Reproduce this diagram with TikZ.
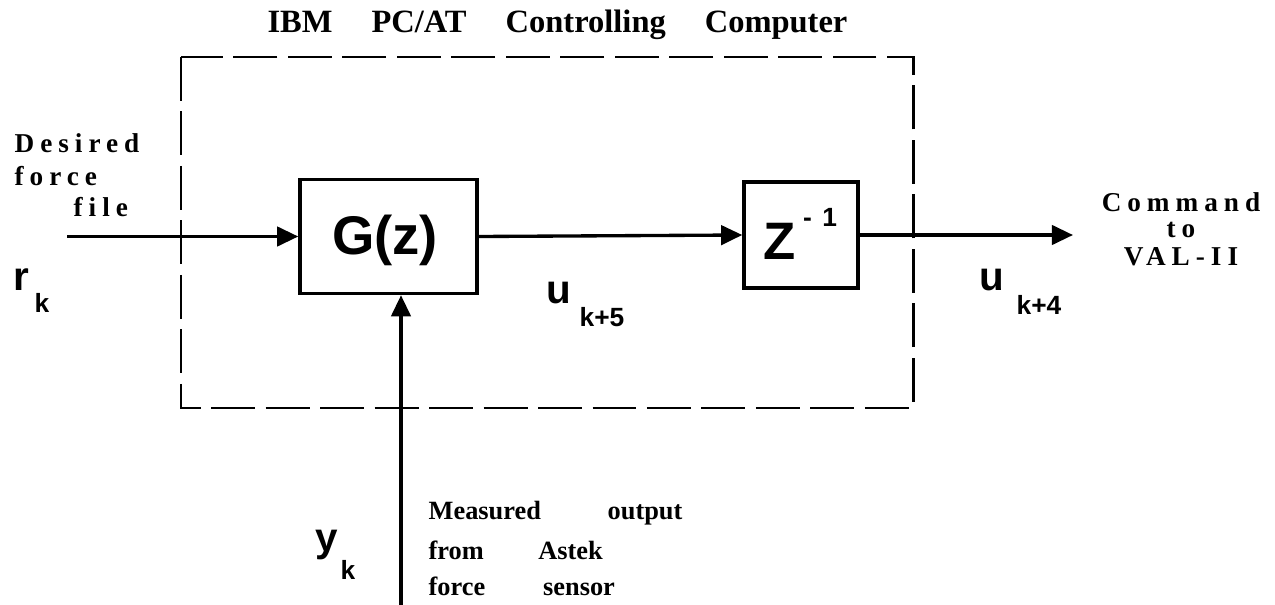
\documentclass[tikz,border=0pt]{standalone}
\usepackage{fontspec}
\setmainfont{Liberation Serif}
\setsansfont{Liberation Sans}
\newfontfamily\spacedserif[LetterSpace=22]{Liberation Serif}
\usetikzlibrary{arrows.meta}
\begin{document}
\begin{tikzpicture}[x=0.02cm,y=-0.02cm,
  line width=1.9pt,
  blockbox/.style={draw, line width=2pt, inner sep=0pt},
  sig/.style={-{Triangle[length=12pt,width=11pt]}},
  frame/.style={draw, line width=1.7pt, dash pattern=on 25pt off 6pt},
  serifbold/.style={font=\fontsize{15}{18}\selectfont\bfseries, inner sep=0pt},
  spacedlbl/.style={font=\fontsize{15.5}{18}\selectfont\spacedserif\bfseries, inner sep=0pt},
  symbig/.style={font=\fontsize{23}{26}\selectfont\sffamily\bfseries, inner sep=0pt},
  symsub/.style={font=\fontsize{15}{17}\selectfont\sffamily\bfseries, inner sep=0pt}
]
\useasboundingbox (0,0) rectangle (1275,605);

% title
\node[font=\fontsize{18.5}{22}\selectfont\bfseries, inner sep=0pt] (title) at (557.5,25)
  {IBM\hspace{1.2em}PC/AT\hspace{1.2em}Controlling\hspace{1.2em}Computer};

% dashed frame
\draw[frame] (181,57) rectangle (913,408);

% blocks
\node[blockbox, minimum width=3.54cm, minimum height=2.28cm] (G) at (388.5,236.5) {};
\node[font=\fontsize{31}{33}\selectfont\sffamily\bfseries, inner sep=0pt] (Gtxt) at (385,240) {G(z)};
\node[blockbox, minimum width=2.28cm, minimum height=2.12cm] (Z) at (801,235) {};
\node[font=\fontsize{30}{32}\selectfont\sffamily\bfseries, inner sep=0pt] (Ztxt) at (780,241) {Z};
\node[font=\fontsize{15}{17}\selectfont\sffamily\bfseries, inner sep=0pt] (Zexp) at (820,217) {-\hspace{6pt}1};

% connectors
\coordinate (rin) at (67,236.5);
\coordinate (out) at (1073,237);
\coordinate (yin) at (401,605);
\draw[sig] (rin) -- (G.west);
\draw[sig] (G.east) -- (Z.west);
\draw[sig] (Z.east) -- (out |- Z.east);
\draw[sig] (yin) -- (yin |- G.south);

% left labels
\node[spacedlbl, anchor=west] (des1) at (13,143) {Desired};
\node[spacedlbl, anchor=west] (des2) at (13,176) {force};
\node[spacedlbl, anchor=west] (des3) at (72,207) {file};
\node[symbig] (r) at (21,280) {r};
\node[symsub] (rk) at (42,303) {k};

% u labels
\node[symbig] (u5) at (559,293) {u};
\node[symsub, anchor=west] (u5s) at (578,317) {k+5};
\node[symbig] (u4) at (992,280) {u};
\node[symsub, anchor=west] (u4s) at (1015,305) {k+4};

% right labels
\node[spacedlbl] (cmd1) at (1181,202) {Command};
\node[spacedlbl] (cmd2) at (1181,230) {to};
\node[spacedlbl] (cmd3) at (1181,257) {VAL-II};

% bottom labels
\node[symbig] (y) at (327,545) {y};
\node[symsub] (yk) at (348,570) {k};
\node[serifbold, anchor=west] (m1) at (427,513) {Measured\hspace{38pt}output};
\node[serifbold, anchor=west] (m2) at (427,550) {from\hspace{31pt}Astek};
\node[serifbold, anchor=west] (m3) at (427,586) {force\hspace{33pt}sensor};
\end{tikzpicture}
\end{document}
